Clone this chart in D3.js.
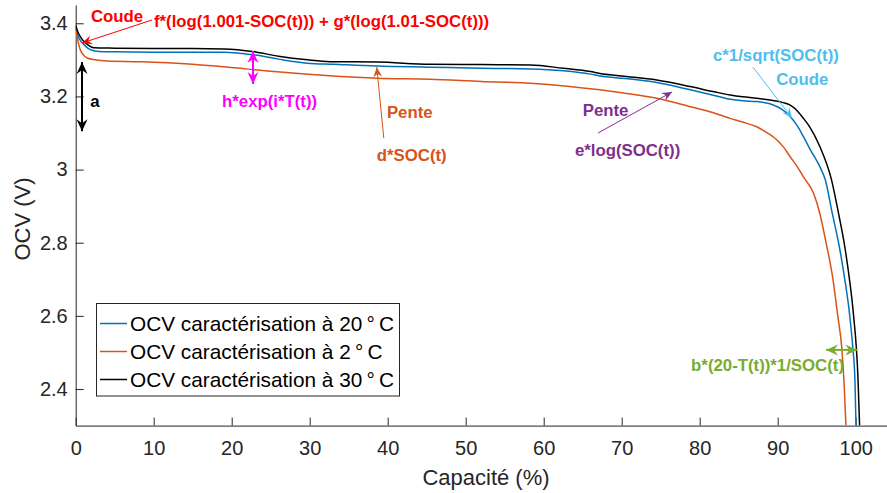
<!DOCTYPE html>
<html><head><meta charset="utf-8">
<script src="https://cdn.jsdelivr.net/npm/d3@7"></script>
<style>
html,body{margin:0;padding:0;background:#fff;}
svg{display:block;font-family:"Liberation Sans",Arial,Helvetica,sans-serif;}
</style></head>
<body>
<svg id="chart" width="887" height="493"></svg>
<script>
// ---- data ----
const xTicks = [0,10,20,30,40,50,60,70,80,90,100];
const yTicks = [2.4,2.6,2.8,3.0,3.2,3.4];

const cap20 = [0,0.3,0.7,1,1.5,2,3,5,10,15,19,23,26,29.7,33,38.6,45.4,52,58.3,62.5,66,67.2,70,74.5,78.8,82,83.9,85.5,87.3,89,90.5,91.6,92.5,93.3,94.3,95.4,96.1,97,97.9,98.6,99.2,99.6,99.9,100.04];
const ocv20 = [3.39,3.365,3.35,3.343,3.333,3.327,3.323,3.322,3.321,3.321,3.321,3.313,3.302,3.291,3.288,3.283,3.280,3.277,3.275,3.270,3.261,3.256,3.250,3.238,3.218,3.202,3.192,3.188,3.186,3.180,3.165,3.145,3.120,3.090,3.050,3.008,2.972,2.880,2.789,2.700,2.607,2.520,2.425,2.300];

const cap2 = [0,0.3,0.6,1,1.5,2.5,4,8.3,15,19,25.4,33,38.6,45.4,52,58.3,63,67.2,70,74.5,78.8,81,83.9,85.5,87.3,88.7,89.9,90.8,91.6,92.5,93.3,94.6,95.4,96.2,97.1,97.7,98.2,98.5,98.75];
const ocv2 = [3.385,3.35,3.327,3.313,3.305,3.300,3.297,3.295,3.288,3.281,3.268,3.256,3.250,3.247,3.241,3.236,3.228,3.218,3.210,3.195,3.172,3.160,3.140,3.130,3.117,3.100,3.081,3.060,3.035,3.008,2.980,2.935,2.880,2.800,2.698,2.600,2.516,2.420,2.300];

const cap30 = [0,0.3,0.7,1.06,1.5,2.3,5,10,15,19,22.9,26,29.7,32.6,38.6,45.4,52,58.3,62.5,66,67.2,70,74.5,78.8,82,83.9,85.5,87.3,89,90.7,91.6,92.4,93.3,94.1,95.4,96.9,97.8,98.6,99.2,99.7,100.3,100.5];
const ocv30 = [3.395,3.375,3.36,3.35,3.342,3.333,3.332,3.331,3.331,3.330,3.322,3.310,3.300,3.295,3.294,3.288,3.287,3.286,3.277,3.268,3.263,3.256,3.245,3.227,3.212,3.204,3.199,3.195,3.190,3.183,3.176,3.163,3.140,3.117,3.063,2.972,2.880,2.789,2.700,2.607,2.425,2.300];

const seriesNames = ["OCV caractérisation à 20\u2009°\u2009C","OCV caractérisation à 2\u2009°\u2009C","OCV caractérisation à 30\u2009°\u2009C"];
const seriesColors = ["#0072BD","#D95319","#000000"];

// annotations in data coordinates [x, V]
const annTexts = [
  {t:"Coude", x:5.3, y:3.420, c:"#FF0000", a:"middle"},
  {t:"f*(log(1.001-SOC(t))) + g*(log(1.01-SOC(t)))", x:10.04, y:3.406, c:"#FF0000", a:"start"},
  {t:"a", x:1.85, y:3.1875, c:"#000000", a:"start"},
  {t:"h*exp(i*T(t))", x:18.76, y:3.1875, c:"#FF00FF", a:"start"},
  {t:"Pente", x:39.9, y:3.157, c:"#D95319", a:"start"},
  {t:"d*SOC(t)", x:38.6, y:3.040, c:"#D95319", a:"start"},
  {t:"Pente", x:65.0, y:3.163, c:"#7E2F8E", a:"start"},
  {t:"e*log(SOC(t))", x:64.0, y:3.054, c:"#7E2F8E", a:"start"},
  {t:"c*1/sqrt(SOC(t))", x:81.7, y:3.313, c:"#4DBEEE", a:"start"},
  {t:"Coude", x:89.8, y:3.248, c:"#4DBEEE", a:"start"},
  {t:"b*(20-T(t))*1/SOC(t)", x:98.5, y:2.466, c:"#77AC30", a:"end"}
];
const annArrows = [
  {x1:9.78, y1:3.409, x2:0.81, y2:3.346, c:"#FF0000", dbl:false, w:1},
  {x1:0.81, y1:3.105, x2:0.81, y2:3.294, c:"#000000", dbl:true, w:2},
  {x1:22.73, y1:3.234, x2:22.73, y2:3.324, c:"#FF00FF", dbl:true, w:2},
  {x1:39.5, y1:3.086, x2:38.6, y2:3.280, c:"#D95319", dbl:false, w:1},
  {x1:66.96, y1:3.100, x2:76.45, y2:3.212, c:"#7E2F8E", dbl:false, w:1},
  {x1:86.83, y1:3.280, x2:91.83, y2:3.141, c:"#4DBEEE", dbl:false, w:1},
  {x1:96.2, y1:2.507, x2:100.2, y2:2.507, c:"#77AC30", dbl:true, w:2}
];

// ---- chart ----
const svg = d3.select("#chart");
const x = d3.scaleLinear().domain([0,104]).range([75.7,886.9]);
const y = d3.scaleLinear().domain([2.3,3.45]).range([425.6,5.0]);
const axisColor = "#262626";

const defs = svg.append("defs");
annArrows.forEach((a,i)=>{
  const big = a.w > 1;
  defs.append("marker").attr("id","ah"+i)
    .attr("viewBox","-13 -7 14 14").attr("refX",0).attr("refY",0)
    .attr("markerWidth",14).attr("markerHeight",14)
    .attr("markerUnits","userSpaceOnUse")
    .attr("orient","auto-start-reverse")
    .append("path").attr("d", big ? "M0,0 L-12,-5.5 L-8,0 L-12,5.5 Z" : "M0,0 L-10,-4.5 L-6.5,0 L-10,4.5 Z").attr("fill",a.c);
});

// axes
const xAxis = d3.axisBottom(x).tickValues(xTicks).tickSizeInner(-8).tickSizeOuter(0).tickPadding(15).tickFormat(d=>d);
const yAxis = d3.axisLeft(y).tickValues(yTicks).tickSizeInner(-8).tickSizeOuter(0).tickPadding(8).tickFormat(d=>String(+d.toFixed(1)));
const gx = svg.append("g").attr("transform",`translate(0,${y(2.3)})`).call(xAxis);
const gy = svg.append("g").attr("transform",`translate(${x(0)},0)`).call(yAxis);
[gx,gy].forEach(g=>{
  g.selectAll("path").attr("stroke",axisColor).attr("stroke-width",1);
  g.selectAll("line").attr("stroke",axisColor).attr("stroke-width",1);
  g.selectAll("text").attr("fill",axisColor).attr("font-size",20).attr("font-family","Liberation Sans, Arial, sans-serif");
});

// axis titles
svg.append("text").attr("x",486).attr("y",485).attr("text-anchor","middle")
  .attr("font-size",22).attr("fill",axisColor).text("Capacité (%)");
svg.append("text").attr("transform","translate(30,219) rotate(-90)").attr("text-anchor","middle")
  .attr("font-size",22).attr("fill",axisColor).text("OCV (V)");

// lines
const line = d3.line().x(d=>x(d[0])).y(d=>y(d[1])).curve(d3.curveMonotoneX);
defs.append("clipPath").attr("id","plotclip").append("rect")
  .attr("x",x(0)).attr("y",y(3.45)).attr("width",x(104)-x(0)).attr("height",y(2.3)-y(3.45));
const series = [
  {xs:cap20, vs:ocv20},
  {xs:cap2, vs:ocv2},
  {xs:cap30, vs:ocv30}
];
const gl = svg.append("g").attr("clip-path","url(#plotclip)");
series.forEach((s,i)=>{
  gl.append("path").datum(d3.zip(s.xs,s.vs)).attr("d",line)
    .attr("fill","none").attr("stroke",seriesColors[i]).attr("stroke-width",1.5)
    .attr("stroke-linejoin","round");
});

// legend
const lg = svg.append("g");
lg.append("rect").attr("x",96.5).attr("y",303.5).attr("width",303).attr("height",92.5)
  .attr("fill","#fff").attr("stroke",axisColor).attr("stroke-width",1);
seriesNames.forEach((n,i)=>{
  const yy = 323.5 + i*28;
  lg.append("line").attr("x1",100).attr("x2",127).attr("y1",yy).attr("y2",yy)
    .attr("stroke",seriesColors[i]).attr("stroke-width",1.5);
  lg.append("text").attr("x",130).attr("y",yy).attr("dy","0.35em")
    .attr("font-size",20.8).attr("fill","#000").text(n);
});

// annotations
annArrows.forEach((a,i)=>{
  const l = svg.append("line").attr("x1",x(a.x1)).attr("y1",y(a.y1)).attr("x2",x(a.x2)).attr("y2",y(a.y2))
    .attr("stroke",a.c).attr("stroke-width",a.w).attr("marker-end",`url(#ah${i})`);
  if(a.dbl) l.attr("marker-start",`url(#ah${i})`);
});
annTexts.forEach(a=>{
  svg.append("text").attr("x",x(a.x)).attr("y",y(a.y)).attr("dy","0.35em")
    .attr("text-anchor",a.a).attr("font-weight","bold").attr("font-size",16.8)
    .attr("fill",a.c).text(a.t);
});
</script>
</body></html>
